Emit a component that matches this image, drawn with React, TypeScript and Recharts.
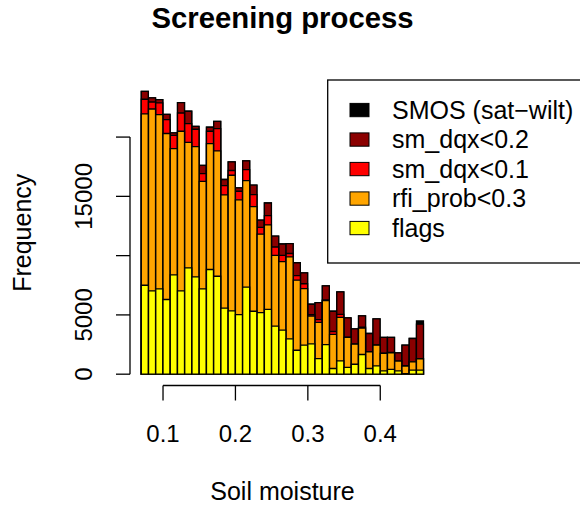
import React from 'react';
import { BarChart, Bar, XAxis, YAxis, ReferenceLine } from 'recharts';

// Histogram bins (width 0.01), labelled by their mid point
const BINS = [
  0.075, 0.085, 0.095, 0.105, 0.115, 0.125, 0.135, 0.145, 0.155, 0.165,
  0.175, 0.185, 0.195, 0.205, 0.215, 0.225, 0.235, 0.245, 0.255, 0.265,
  0.275, 0.285, 0.295, 0.305, 0.315, 0.325, 0.335, 0.345, 0.355, 0.365,
  0.375, 0.385, 0.395, 0.405, 0.415, 0.425, 0.435, 0.445, 0.455,
];

// Counts per bin after each screening step
const SMOS = [
  23860, 23310, 23160, 21920, 20350, 22910, 22180, 20910, 17620, 20830,
  21330, 16420, 17900, 15710, 18000, 15950, 12990, 14440, 11650, 10980,
  11020, 9400, 8540, 5900, 6030, 7450, 5310, 6940, 4750, 3820,
  4920, 3430, 4660, 3100, 3100, 1800, 2450, 3010, 4490,
];
const DQX_02 = [
  23860, 23310, 23160, 21920, 20350, 22910, 22180, 20910, 17620, 20830,
  21330, 16420, 17900, 15710, 18000, 15950, 12990, 14440, 11650, 10980,
  11020, 9400, 8540, 5900, 6030, 7450, 5310, 6940, 4750, 3820,
  4920, 3430, 4660, 3100, 3100, 1800, 2450, 3010, 4220,
];
const DQX_01 = [
  23190, 22960, 22880, 21480, 20150, 22030, 21140, 20660, 16920, 20490,
  20720, 15910, 17180, 15430, 17260, 15150, 12380, 13370, 10730, 10020,
  10180, 8310, 7630, 5030, 4600, 6260, 3600, 5040, 3130, 2560,
  3960, 1910, 2470, 1770, 1840, 1130, 710, 1060, 1310,
];
const RFI = [
  21950, 22370, 21900, 20300, 19030, 20490, 19560, 19200, 16270, 19450,
  18830, 15120, 16780, 14710, 16330, 14140, 11810, 12590, 10030, 9490,
  9890, 7930, 7210, 4910, 4370, 6200, 3350, 4790, 3100, 2530,
  3880, 1880, 2450, 1750, 1810, 1110, 690, 1040, 1290,
];
const FLAGS = [
  7500, 7020, 7190, 6300, 8370, 7020, 8960, 8200, 7190, 8830,
  8260, 5570, 5340, 5030, 7340, 5310, 5190, 5460, 4050, 3710,
  2980, 2020, 2450, 2560, 1320, 2490, 480, 1120, 570, 840,
  1660, 480, 700, 280, 400, 280, 40, 340, 340,
];

const SERIES = [
  { key: 'smos', label: 'SMOS (sat\u2212wilt)', color: '#000000', values: SMOS },
  { key: 'dqx02', label: 'sm_dqx<0.2', color: '#8B0000', values: DQX_02 },
  { key: 'dqx01', label: 'sm_dqx<0.1', color: '#FF0000', values: DQX_01 },
  { key: 'rfi', label: 'rfi_prob<0.3', color: '#FFA500', values: RFI },
  { key: 'flags', label: 'flags', color: '#FFFF00', values: FLAGS },
];

const X_TICKS = [0.1, 0.2, 0.3, 0.4];
const Y_TICKS = [0, 5000, 10000, 15000, 20000];
const Y_LABELLED = [0, 5000, 15000];

const data = BINS.map((mid, i) => {
  const row: Record<string, number> = { mid };
  SERIES.forEach(s => { row[s.key] = s.values[i]; });
  return row;
});

// R-style 4% range extension
const BIN_LO = 0.07;
const BIN_HI = 0.46;
const xPad = 0.04 * (BIN_HI - BIN_LO);
const X_DOMAIN: [number, number] = [BIN_LO - xPad, BIN_HI + xPad];
const yMax = Math.max(...SMOS);
const Y_DOMAIN: [number, number] = [-0.04 * yMax, yMax * 1.04];

const W = 580;
const H = 506;
const PLOT_L = 130;
const PLOT_T = 80;
const PLOT_W = 305;
const PLOT_H = 305.5;
const PLOT_B = PLOT_T + PLOT_H;
const Y_AXIS_W = 60;
const X_AXIS_H = 40;
const catPad = (xPad / (X_DOMAIN[1] - X_DOMAIN[0])) * PLOT_W;

const FONT = '"Liberation Sans", Arial, Helvetica, sans-serif';
const LINE_W = 1.3;

// tick mark + label drawn together so the mark hangs from the plot edge
const XTick = (props: any) => (
  <g>
    <line x1={props.x} x2={props.x} y1={PLOT_B} y2={PLOT_B + 15} stroke="#000" strokeWidth={LINE_W} />
    <text x={props.x} y={PLOT_B + 56} textAnchor="middle" fontSize={24} fontFamily={FONT} fill="#000">
      {props.payload.value}
    </text>
  </g>
);

const YTick = (props: any) => (
  <g>
    <line x1={PLOT_L - 14} x2={PLOT_L} y1={props.y} y2={props.y} stroke="#000" strokeWidth={LINE_W} />
    {Y_LABELLED.includes(props.payload.value) && (
      <text
        transform={`translate(${PLOT_L - 38.3}, ${props.y}) rotate(-90)`}
        textAnchor="middle"
        fontSize={24}
        fontFamily={FONT}
        fill="#000"
      >
        {props.payload.value}
      </text>
    )}
  </g>
);

const Legend = () => (
  <g>
    <rect x={327.7} y={80} width={280} height={183} fill="#fff" stroke="#000" strokeWidth={LINE_W} />
    {SERIES.map((s, i) => {
      const cy = 110 + i * 29.5;
      return (
        <g key={s.key}>
          <rect x={350} y={cy - 6.6} width={19} height={13.3} fill={s.color} stroke="#000" strokeWidth={1} />
          <text x={392} y={cy + 8.8} fontSize={25} fontFamily={FONT} fill="#000">{s.label}</text>
        </g>
      );
    })}
  </g>
);

export default function App() {
  return (
    <div style={{ position: 'absolute', left: 0, top: 0, width: W, height: H, background: '#fff', overflow: 'hidden' }}>
      <BarChart
        width={W}
        height={H}
        data={data}
        barCategoryGap={0}
        barGap={0}
        margin={{ top: PLOT_T, left: PLOT_L - Y_AXIS_W, right: W - PLOT_L - PLOT_W, bottom: H - PLOT_B - X_AXIS_H }}
      >
        {SERIES.map(s => (
          <XAxis key={s.key} xAxisId={s.key} dataKey="mid" type="category" hide padding={{ left: catPad, right: catPad }} />
        ))}
        <XAxis
          xAxisId="num"
          dataKey="mid"
          type="number"
          domain={X_DOMAIN}
          allowDataOverflow
          ticks={X_TICKS}
          axisLine={false}
          tickLine={false}
          tick={<XTick />}
          height={X_AXIS_H}
        />
        <YAxis
          type="number"
          domain={Y_DOMAIN}
          allowDataOverflow
          ticks={Y_TICKS}
          axisLine={false}
          tickLine={false}
          tick={<YTick />}
          width={Y_AXIS_W}
        />
        {SERIES.map(s => (
          <Bar
            key={s.key}
            xAxisId={s.key}
            dataKey={s.key}
            fill={s.color}
            stroke="#000"
            strokeWidth={LINE_W}
            isAnimationActive={false}
          />
        ))}
        {/* axis lines only over the tick range, as base graphics draws them */}
        <ReferenceLine
          xAxisId="num"
          segment={[{ x: X_TICKS[0], y: Y_DOMAIN[0] }, { x: X_TICKS[X_TICKS.length - 1], y: Y_DOMAIN[0] }]}
          stroke="#000"
          strokeWidth={LINE_W}
          ifOverflow="visible"
        />
        <ReferenceLine
          xAxisId="num"
          segment={[{ x: X_DOMAIN[0], y: Y_TICKS[0] }, { x: X_DOMAIN[0], y: Y_TICKS[Y_TICKS.length - 1] }]}
          stroke="#000"
          strokeWidth={LINE_W}
          ifOverflow="visible"
        />
      </BarChart>
      <svg width={W} height={H} style={{ position: 'absolute', left: 0, top: 0, pointerEvents: 'none' }}>
        <text x={PLOT_L + PLOT_W / 2} y={28.3} textAnchor="middle" fontSize={29.3} fontWeight="bold" fontFamily={FONT} fill="#000">
          Screening process
        </text>
        <text x={PLOT_L + PLOT_W / 2} y={500} textAnchor="middle" fontSize={25} fontFamily={FONT} fill="#000">
          Soil moisture
        </text>
        <text transform={`translate(30.5, ${PLOT_T + PLOT_H / 2}) rotate(-90)`} textAnchor="middle" fontSize={25} fontFamily={FONT} fill="#000">
          Frequency
        </text>
        <Legend />
      </svg>
    </div>
  );
}
